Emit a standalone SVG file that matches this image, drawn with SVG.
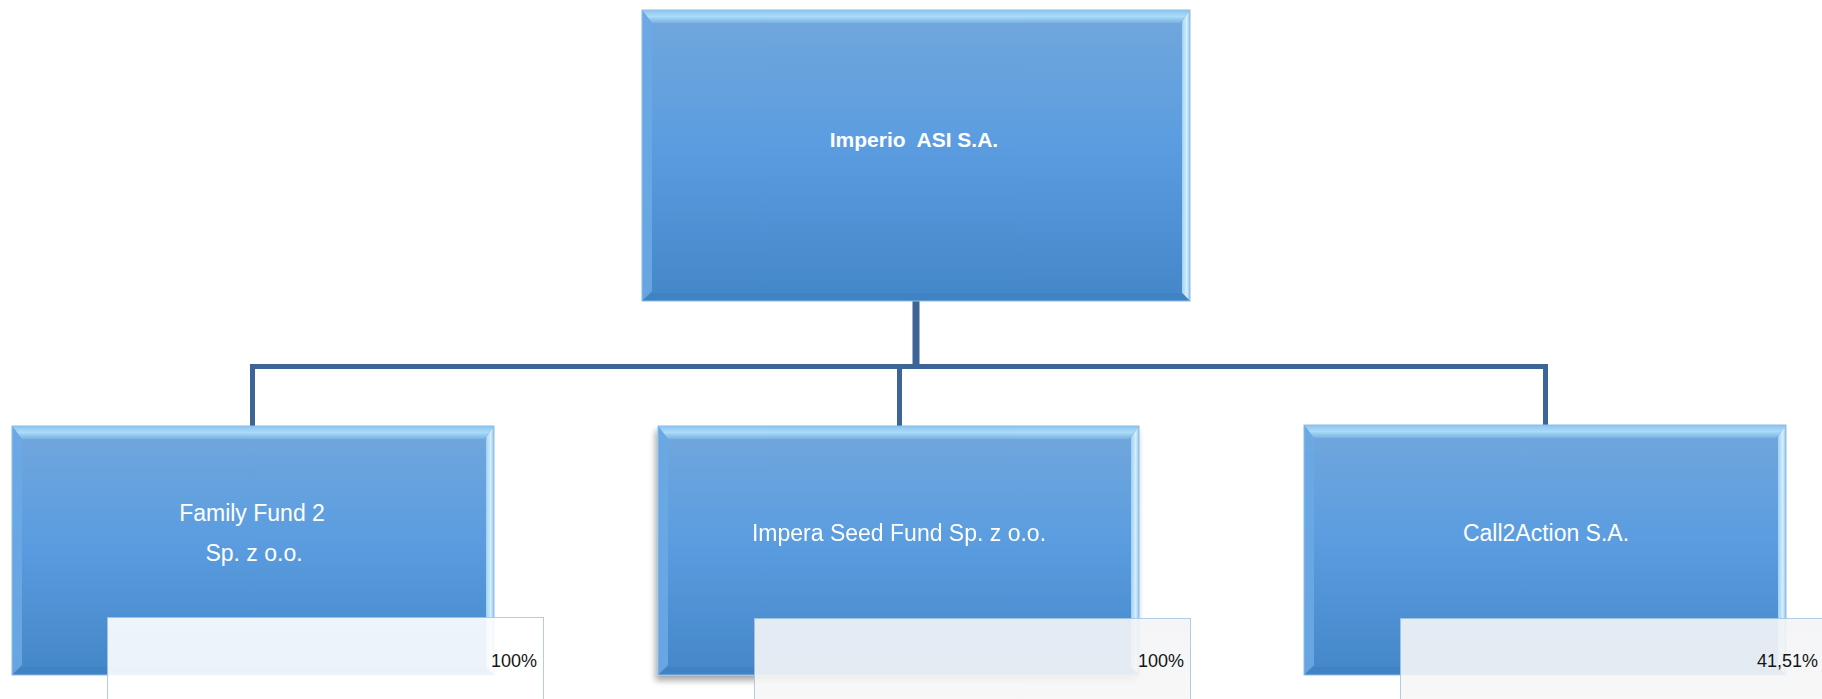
<svg xmlns="http://www.w3.org/2000/svg" width="1822" height="699" viewBox="0 0 1822 699">
  <defs>
    <linearGradient id="boxFill" x1="0" y1="0" x2="0" y2="1">
      <stop offset="0" stop-color="#72a7dc"/>
      <stop offset="0.45" stop-color="#5b9de0"/>
      <stop offset="1" stop-color="#4487c9"/>
    </linearGradient>
    <linearGradient id="topBevel" x1="0" y1="0" x2="0" y2="1">
      <stop offset="0" stop-color="#8ec3ee"/>
      <stop offset="0.5" stop-color="#aadbf8"/>
      <stop offset="1" stop-color="#78b1e4"/>
    </linearGradient>
    <linearGradient id="rightBevel" x1="0" y1="0" x2="1" y2="0">
      <stop offset="0" stop-color="#9fd0f2"/>
      <stop offset="0.6" stop-color="#d6f0fb"/>
      <stop offset="1" stop-color="#8fc0ea"/>
    </linearGradient>
    <linearGradient id="labelFill" x1="0" y1="0" x2="0" y2="1">
      <stop offset="0" stop-color="#f4f5f7"/>
      <stop offset="1" stop-color="#f8f8f8"/>
    </linearGradient>
    <filter id="shadow" x="-5%" y="-5%" width="110%" height="115%">
      <feGaussianBlur in="SourceAlpha" stdDeviation="3"/>
      <feOffset dx="-2" dy="5" result="b"/>
      <feComponentTransfer><feFuncA type="linear" slope="0.35"/></feComponentTransfer>
      <feMerge><feMergeNode/><feMergeNode in="SourceGraphic"/></feMerge>
    </filter>
  </defs>
  <style>
    .box { fill: url(#boxFill); }
    .bt { fill: url(#topBevel); }
    .bl { fill: #6aa9e4; opacity: 0.9; }
    .br { fill: url(#rightBevel); }
    .bb { fill: #3f82c3; opacity: 0.8; }
    .edge { fill: none; stroke: #8cbde9; stroke-width: 1; }
    .name { font-family: "Liberation Sans", Arial, sans-serif; font-size: 23px; fill: #ffffff; text-anchor: middle; }
    .title { font-family: "Liberation Sans", Arial, sans-serif; font-size: 21px; font-weight: bold; fill: #ffffff; text-anchor: middle; white-space: pre; }
    .lbl { fill: url(#labelFill); opacity: 0.9; stroke: #a9c6e6; stroke-width: 1; }
    .pct { font-family: "Liberation Sans", Arial, sans-serif; font-size: 18px; fill: #141414; text-anchor: end; }
    .conn { fill: none; stroke: #3c6496; stroke-linejoin: miter; stroke-linecap: butt; }
  </style>

  <g id="connectors">
    <path class="conn" d="M916 301 V369" stroke-width="7"/>
    <path class="conn" d="M252.5 426 V366.5 H1545.5 V426" stroke-width="5"/>
    <path class="conn" d="M899.5 366 V426" stroke-width="5"/>
  </g>

  <g id="node-imperio">
    <rect class="box" x="642" y="10" width="548" height="291"/>
    <polygon class="bt" points="642,10 1190,10 1180,23 652,23"/>
    <polygon class="bl" points="642,10 652,23 652,291 642,301"/>
    <polygon class="br" points="1190,10 1190,301 1182,293 1182,21"/>
    <polygon class="bb" points="642,301 652,293 1182,293 1190,301"/>
    <rect class="edge" x="642" y="10" width="548" height="291"/>
    <text class="title" x="914" y="147">Imperio  ASI S.A.</text>
  </g>

  <g id="node-familyfund">
    <rect class="box" x="12" y="426" width="482" height="249"/>
    <polygon class="bt" points="12,426 494,426 484,439 22,439"/>
    <polygon class="bl" points="12,426 22,439 22,665 12,675"/>
    <polygon class="br" points="494,426 494,675 486,667 486,437"/>
    <polygon class="bb" points="12,675 22,667 486,667 494,675"/>
    <rect class="edge" x="12" y="426" width="482" height="249"/>
    <text class="name" x="252" y="521">Family Fund 2</text>
    <text class="name" x="254" y="561">Sp. z o.o.</text>
  </g>

  <g id="node-imperaseed" filter="url(#shadow)">
    <rect class="box" x="658" y="426" width="481" height="249"/>
    <polygon class="bt" points="658,426 1139,426 1129,439 668,439"/>
    <polygon class="bl" points="658,426 668,439 668,665 658,675"/>
    <polygon class="br" points="1139,426 1139,675 1131,667 1131,437"/>
    <polygon class="bb" points="658,675 668,667 1131,667 1139,675"/>
    <rect class="edge" x="658" y="426" width="481" height="249"/>
    <text class="name" x="899" y="541">Impera Seed Fund Sp. z o.o.</text>
  </g>

  <g id="node-call2action">
    <rect class="box" x="1304" y="425" width="482" height="250"/>
    <polygon class="bt" points="1304,425 1786,425 1776,438 1314,438"/>
    <polygon class="bl" points="1304,425 1314,438 1314,665 1304,675"/>
    <polygon class="br" points="1786,425 1786,675 1778,667 1778,436"/>
    <polygon class="bb" points="1304,675 1314,667 1778,667 1786,675"/>
    <rect class="edge" x="1304" y="425" width="482" height="250"/>
    <text class="name" x="1546" y="541">Call2Action S.A.</text>
  </g>

  <g id="label-familyfund">
    <rect class="lbl" x="107.5" y="617.5" width="436" height="100" style="fill:#ffffff"/>
    <text class="pct" x="537" y="667">100%</text>
  </g>
  <g id="label-imperaseed">
    <rect class="lbl" x="754.5" y="618.5" width="436" height="100"/>
    <text class="pct" x="1184" y="667">100%</text>
  </g>
  <g id="label-call2action">
    <rect class="lbl" x="1400.5" y="618.5" width="436" height="100"/>
    <text class="pct" x="1818" y="667">41,51%</text>
  </g>
</svg>
